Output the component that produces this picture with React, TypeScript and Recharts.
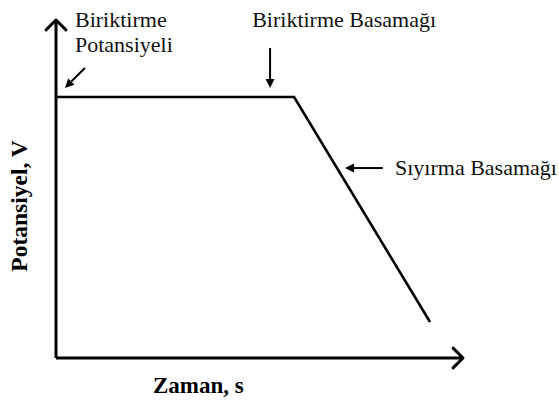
import { LineChart, Line, XAxis, YAxis, ReferenceLine, ReferenceDot } from 'recharts'

// Stripping voltammetry potential program (schematic)
const TIME = [0, 58.5, 91.9]
const POTENTIAL = [77.2, 77.2, 10.65]

const AXIS_X_LABEL = 'Zaman, s'
const AXIS_Y_LABEL = 'Potansiyel, V'

// annotation texts: [text, t, v]
const NOTES: [string, number, number][] = [
  ['Biriktirme', 4.67, 97.9],
  ['Potansiyeli', 4.67, 90.5],
  ['Biriktirme Basamağı', 48.2, 97.9],
  ['Sıyırma Basamağı', 83.3, 54.1],
]

// annotation arrows: [tailT, tailV, headT, headV]
const POINTERS: [number, number, number, number][] = [
  [7.1, 85.8, 2.2, 79.9],
  [52.6, 91.7, 52.6, 79.9],
  [80.3, 56.2, 71.0, 56.2],
]

const data = TIME.map((t, i) => ({ t, v: POTENTIAL[i] }))

const FONT = "'Liberation Serif', 'Times New Roman', Times, serif"

function AxisArrow(p: any) {
  const { x1, y1, x2, y2 } = p
  const a = Math.atan2(y2 - y1, x2 - x1)
  const len = 14
  const s = Math.PI / 4
  const ax = x2 - len * Math.cos(a - s), ay = y2 - len * Math.sin(a - s)
  const bx = x2 - len * Math.cos(a + s), by = y2 - len * Math.sin(a + s)
  return (
    <g stroke="#000" strokeWidth={3} fill="none">
      <line x1={x1} y1={y1} x2={x2} y2={y2} />
      <polyline points={`${ax},${ay} ${x2},${y2} ${bx},${by}`} strokeLinecap="round" strokeLinejoin="round" />
    </g>
  )
}

function Pointer(p: any) {
  const { x1, y1, x2, y2 } = p
  const a = Math.atan2(y2 - y1, x2 - x1)
  const hl = 9, hw = 4.5
  const bx = x2 - hl * Math.cos(a), by = y2 - hl * Math.sin(a)
  const px = -Math.sin(a) * hw, py = Math.cos(a) * hw
  return (
    <g>
      <line x1={x1} y1={y1} x2={bx} y2={by} stroke="#000" strokeWidth={2} />
      <polygon points={`${x2},${y2} ${bx + px},${by + py} ${bx - px},${by - py}`} fill="#000" />
    </g>
  )
}

export default function App() {
  return (
    <div style={{ position: 'absolute', left: 0, top: 0, background: '#fff', fontFamily: FONT }}>
      <LineChart width={559} height={401} data={data} margin={{ top: 20, right: 96, left: 0, bottom: 0 }}>
        <XAxis
          dataKey="t" type="number" domain={[0, 100]} axisLine={false} tickLine={false} tick={false} height={43}
          label={{
            content: ({ viewBox }: any) => (
              <text x={viewBox.x + 97} y={viewBox.y + 35} style={{ fontFamily: FONT }} fontWeight="bold" fontSize={23} fill="#000">
                {AXIS_X_LABEL}
              </text>
            ),
          }}
        />
        <YAxis
          type="number" domain={[0, 100]} axisLine={false} tickLine={false} tick={false} width={56}
          label={{
            content: ({ viewBox }: any) => {
              const cx = 27, cy = viewBox.y + viewBox.height / 2 + 17
              return (
                <text x={cx} y={cy} transform={`rotate(-90, ${cx}, ${cy})`} textAnchor="middle"
                  style={{ fontFamily: FONT }} fontWeight="bold" fontSize={23.5} fill="#000">
                  {AXIS_Y_LABEL}
                </text>
              )
            },
          }}
        />
        <ReferenceLine segment={[{ x: 0, y: 0 }, { x: 0, y: 100 }]} shape={AxisArrow} />
        <ReferenceLine segment={[{ x: 0, y: 0 }, { x: 100, y: 0 }]} shape={AxisArrow} />
        {POINTERS.map(([t1, v1, t2, v2], i) => (
          <ReferenceLine key={i} segment={[{ x: t1, y: v1 }, { x: t2, y: v2 }]} shape={Pointer} />
        ))}
        {NOTES.map(([txt, t, v]) => (
          <ReferenceDot key={txt} x={t} y={v} r={0}
            shape={(p: any) => (
              <text x={p.cx} y={p.cy} style={{ fontFamily: FONT }} fontSize={22} fill="#111">{txt}</text>
            )}
          />
        ))}
        <Line dataKey="v" type="linear" stroke="#000" strokeWidth={2.6} dot={false} isAnimationActive={false} />
      </LineChart>
    </div>
  )
}
